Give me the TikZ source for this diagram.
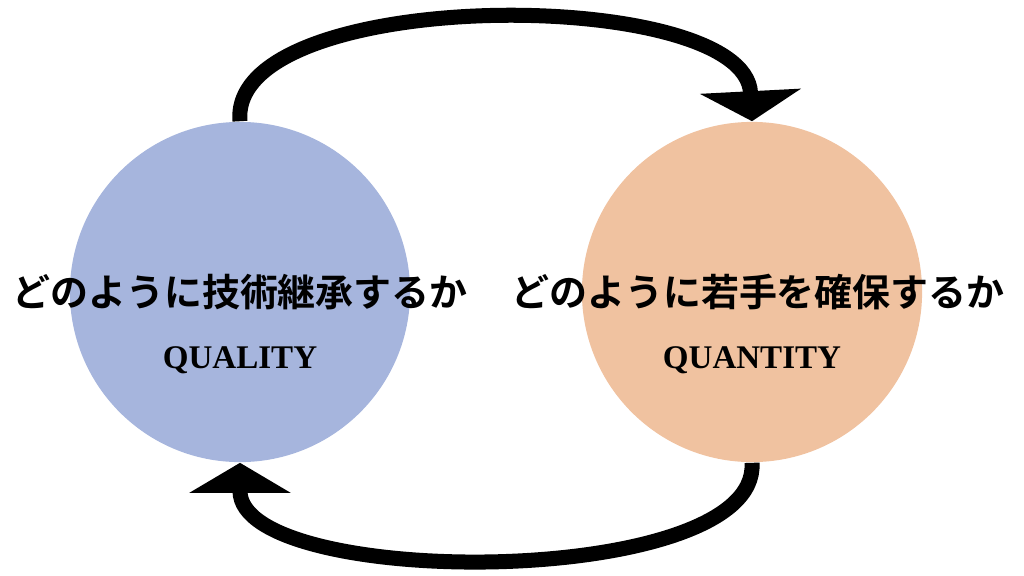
\documentclass[tikz,border=0pt]{standalone}
\usepackage{fontspec}
\setmainfont{Liberation Serif}
\newfontfamily\jpfont{Noto Sans CJK JP}[BoldFont={* Bold}]
\usetikzlibrary{arrows.meta}
\definecolor{qualblue}{HTML}{A6B5DD}
\definecolor{quanorange}{HTML}{F0C2A0}
\tikzset{
  cycle/.style={circle, minimum size=3.4cm, inner sep=0pt},
  jtext/.style={font=\jpfont\bfseries\fontsize{10.8}{12}\selectfont},
  etext/.style={font=\bfseries\fontsize{9.4}{11}\selectfont},
  loop/.style={line width=0.15cm, -{Triangle[width=1cm,length=0.3cm]}}
}
\begin{document}
\begin{tikzpicture}[x=0.01cm, y=-0.01cm]
\useasboundingbox (0,0) rectangle (1024,575);
\node[cycle, fill=qualblue] (qual) at (240,292) {};
\node[cycle, fill=quanorange] (quan) at (752,292) {};
\node[jtext] (qualjp) at (240,292) {どのように技術継承するか};
\node[jtext] (quanjp) at (758,292) {どのように若手を確保するか};
\node[etext] (qualen) at (240,360) {QUALITY};
\node[etext] (quanen) at (752,360) {QUANTITY};
% cycle arrows
\draw[loop] (qual.north) .. controls (228,-15) and (745,-15) .. (quan.north);
\draw[loop] (quan.south) .. controls (760,590) and (240,590) .. (qual.south);
\end{tikzpicture}
\end{document}
